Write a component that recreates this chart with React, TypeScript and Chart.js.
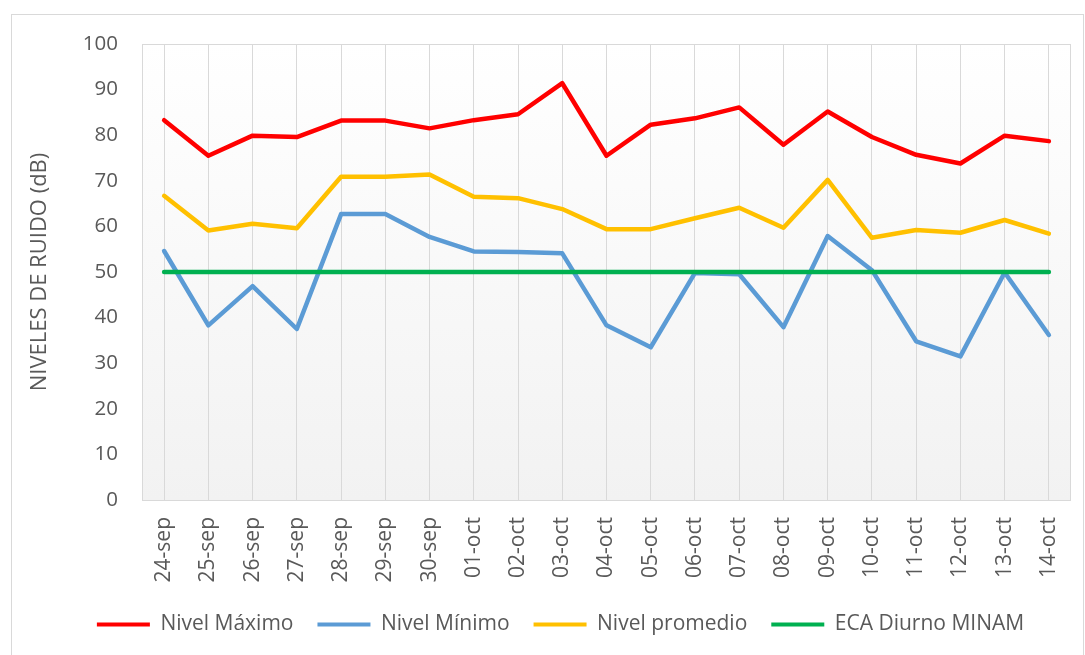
import React, { useEffect, useRef } from "react";
import { Chart, registerables } from "chart.js";

Chart.register(...registerables);

const categories = [
  "24-sep", "25-sep", "26-sep", "27-sep", "28-sep", "29-sep", "30-sep",
  "01-oct", "02-oct", "03-oct", "04-oct", "05-oct", "06-oct", "07-oct",
  "08-oct", "09-oct", "10-oct", "11-oct", "12-oct", "13-oct", "14-oct",
];

const nivelMaximo = [83.3, 75.5, 79.9, 79.6, 83.2, 83.2, 81.5, 83.3, 84.6, 91.4, 75.5, 82.3, 83.7, 86.1, 77.9, 85.2, 79.6, 75.7, 73.8, 79.9, 78.7];
const nivelMinimo = [54.6, 38.3, 46.9, 37.5, 62.7, 62.7, 57.7, 54.5, 54.4, 54.1, 38.3, 33.5, 49.8, 49.5, 37.9, 57.9, 50.4, 34.8, 31.5, 49.9, 36.2];
const nivelPromedio = [66.7, 59.1, 60.6, 59.6, 70.9, 70.9, 71.4, 66.5, 66.2, 63.8, 59.4, 59.4, 61.8, 64.1, 59.7, 70.2, 57.5, 59.2, 58.6, 61.4, 58.4];
const ecaDiurno = [50, 50, 50, 50, 50, 50, 50, 50, 50, 50, 50, 50, 50, 50, 50, 50, 50, 50, 50, 50, 50];

const seriesNames = ["Nivel Máximo", "Nivel Mínimo", "Nivel promedio", "ECA Diurno MINAM"];
const seriesColors = ["#ff0000", "#5b9bd5", "#ffc000", "#00b050"];

const yTitle = "NIVELES DE RUIDO (dB)";
const yMin = 0;
const yMax = 100;
const yStep = 10;

const FONT = "'Open Sans', 'Noto Sans', sans-serif";
const TEXT = "#595959";

const bgPlugin = {
  id: "bgPlugin",
  beforeDraw(chart: any) {
    const { ctx, chartArea } = chart;
    const { left, top, right, bottom } = chartArea;
    ctx.save();
    ctx.fillStyle = "#ffffff";
    ctx.fillRect(0, 0, chart.width, chart.height);
    ctx.strokeStyle = "#d9d9d9";
    ctx.lineWidth = 1;
    ctx.strokeRect(11.5, 14.5, 1072, 700);
    const g = ctx.createLinearGradient(0, top, 0, bottom);
    g.addColorStop(0, "#ffffff");
    g.addColorStop(1, "#f2f2f2");
    ctx.fillStyle = g;
    ctx.fillRect(left, top, right - left, bottom - top);
    ctx.strokeStyle = "#d9d9d9";
    ctx.strokeRect(Math.round(left) + 0.5, Math.round(top) + 0.5, Math.round(right - left) - 1, Math.round(bottom - top));
    ctx.restore();
  },
};

export default function App() {
  const ref = useRef<HTMLCanvasElement | null>(null);

  useEffect(() => {
    if (!ref.current) return;
    const data = [nivelMaximo, nivelMinimo, nivelPromedio, ecaDiurno];
    const chart = new Chart(ref.current, {
      type: "line",
      data: {
        labels: categories,
        datasets: data.map((d, i) => ({
          label: seriesNames[i],
          data: d,
          borderColor: seriesColors[i],
          backgroundColor: seriesColors[i],
          borderWidth: 4.5,
          pointRadius: 0,
          pointHoverRadius: 0,
          tension: 0,
          borderJoinStyle: "round" as const,
          borderCapStyle: "round" as const,
          order: 3 - i,
        })),
      },
      options: {
        responsive: false,
        animation: false,
        layout: { padding: { left: 50, right: 14, top: 44, bottom: 10 } },
        plugins: {
          tooltip: { enabled: false },
          legend: {
            position: "bottom",
            labels: {
              color: TEXT,
              font: { family: FONT, size: 21 },
              boxWidth: 53,
              boxHeight: 4,
              padding: 24,
              sort: (a: any, b: any) => a.datasetIndex - b.datasetIndex,
              generateLabels: (chart: any) => {
                const items = Chart.defaults.plugins.legend.labels.generateLabels(chart);
                return items.map((it: any) => ({ ...it, lineWidth: 0 }));
              },
            },
          },
        },
        scales: {
          x: {
            offset: true,
            grid: { display: true, offset: false, color: "#d9d9d9", lineWidth: 1, drawTicks: false },
            border: { display: false },
            ticks: {
              color: TEXT,
              font: { family: FONT, size: 21 },
              minRotation: 90,
              maxRotation: 90,
              padding: 17,
              autoSkip: false,
            },
            afterFit: (s: any) => {
              s.height = 90;
              s.paddingLeft = 0;
              s.paddingRight = 0;
            },
          },
          y: {
            min: yMin,
            max: yMax,
            grid: { display: false, drawTicks: false },
            border: { display: false },
            ticks: {
              stepSize: yStep,
              color: TEXT,
              font: { family: FONT, size: 20.5 },
              padding: 24,
            },
            title: {
              display: true,
              text: yTitle,
              color: TEXT,
              font: { family: FONT, size: 22 },
              padding: { top: -23.2, bottom: 0 },
            },
            afterFit: (s: any) => { s.width = 92; },
          },
        },
      },
      plugins: [bgPlugin],
    });
    return () => chart.destroy();
  }, []);

  return (
    <div style={{ position: "fixed", left: 0, top: 0, width: 1085, height: 655, background: "#fff" }}>
      <canvas ref={ref} width={1085} height={655} style={{ display: "block" }} />
    </div>
  );
}
